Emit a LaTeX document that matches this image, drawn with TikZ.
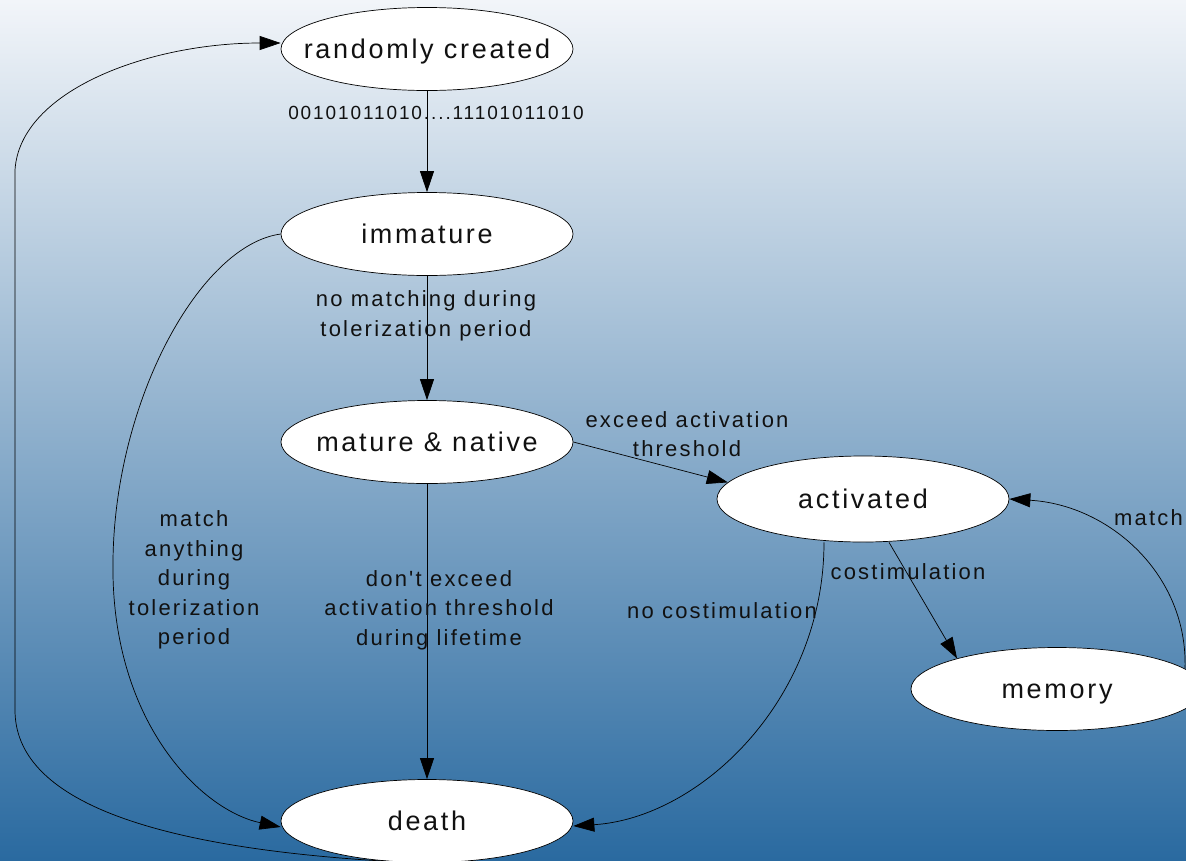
\documentclass[tikz,border=0pt]{standalone}
\usepackage{fontspec}
\setmainfont{Liberation Sans}
\newfontfamily\spaced[LetterSpace=10,Ligatures=TeXOff]{Liberation Sans}
\usetikzlibrary{arrows.meta,shapes.geometric}
\definecolor{bgtop}{HTML}{F2F5F9}
\definecolor{bgmid}{HTML}{A5B2C7}
\definecolor{bgbot}{HTML}{2A6AA0}
\definecolor{ink}{HTML}{111111}
% keep the ellipse size independent of the label width
\newcommand\statetext[1]{\makebox[0pt][c]{#1}}
\begin{document}
\begin{tikzpicture}[x=1pt,y=-1pt,
  state/.style={ellipse, draw=black, line width=0.7pt, fill=white,
    minimum width=292pt, minimum height=83pt, inner sep=0pt,
    text height=20pt, text depth=2pt, text=ink,
    font=\spaced\fontsize{27}{30}\selectfont},
  lbl/.style={align=center, inner sep=0pt, text=ink,
    font=\spaced\fontsize{22}{29.5}\selectfont},
  bits/.style={inner sep=0pt, text=ink, font=\spaced\fontsize{19}{22}\selectfont},
  link/.style={draw=black, line width=0.7pt, -{Triangle[length=21pt,width=14pt]}}
]
\useasboundingbox (0,0) rectangle (1186,860);
\clip (0,0) rectangle (1186,860);
\shade[top color=bgtop, middle color=bgmid, bottom color=bgbot] (0,0) rectangle (1186,860);

% states
\node[state] (rc)  at (427,49)  {\statetext{randomly created}};
\node[state] (imm) at (427,234) {\statetext{immature}};
\node[state] (mat) at (427,442) {\statetext{mature \& native}};
\node[state, minimum height=86pt] (act) at (863,499) {\statetext{activated}};
\node[state] (mem) at (1057,689) {\statetext{memory}};
\node[state] (dth) at (427,821) {\statetext{death}};

% straight transitions
\draw[link] (rc) -- (imm);
\draw[link] (imm) -- (mat);
\draw[link] (mat) -- (dth);
\draw[link] (mat.east) -- (act.173);
\draw[link] ([xshift=26pt]act.south) -- (mem.163);

% curved transitions
\coordinate (rcIn)  at ([yshift=6pt]rc.west);
\coordinate (dthL)  at ([yshift=-6pt]dth.west);
\coordinate (dthR)  at ([yshift=-5pt]dth.east);
\coordinate (actS)  at ([xshift=-39pt]act.south);

\draw[link] (dth.250) .. controls (150,850) and (15,800) .. (15,710)
  -- (15,170) .. controls (20,90) and (150,43) .. (rcIn);
\draw[link] (imm.west) .. controls (200,245) and (115,400) .. (113,560)
  .. controls (110,720) and (200,810) .. (dthL);
\draw[link] (actS) .. controls (824,700) and (700,818) .. (dthR);
\draw[link] (mem.9) .. controls (1188,575) and (1110,505) .. (act.east);

% transition labels
\node[bits] (b1) at (436,113) {00101011010....11101011010};
\node[lbl] (l2) at (426,316) {no matching during\\tolerization period};
\node[lbl] (l3) at (687,434) {exceed activation\\threshold};
\node[lbl] (l4) at (194,580) {match\\anything\\during\\tolerization\\period};
\node[lbl] (l5) at (439,610) {don't exceed\\activation threshold\\during lifetime};
\node[lbl] (l6) at (722,611) {no costimulation};
\node[lbl] (l7) at (908,572) {costimulation};
\node[lbl, anchor=west] (l8) at (1114,518) {match};
\end{tikzpicture}
\end{document}
